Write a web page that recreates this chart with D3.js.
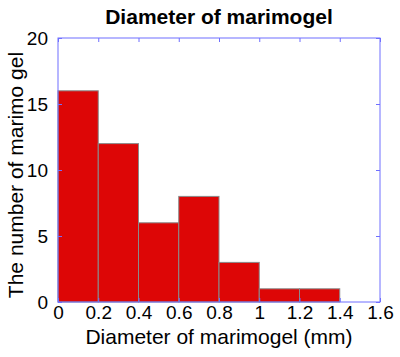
<!DOCTYPE html>
<html><head><meta charset="utf-8">
<script src="https://cdn.jsdelivr.net/npm/d3@7"></script>
<style>body{margin:0;background:#fff}svg{display:block}</style>
</head><body>
<script>
const binStarts = [0, 0.2, 0.4, 0.6, 0.8, 1.0, 1.2];
const binWidth = 0.2;
const counts = [16, 12, 6, 8, 3, 1, 1];
const xTicks = [0, 0.2, 0.4, 0.6, 0.8, 1, 1.2, 1.4, 1.6];
const yTicks = [0, 5, 10, 15, 20];
const title = "Diameter of marimogel";
const xLabel = "Diameter of marimogel (mm)";
const yLabel = "The number of marimo gel";

const W = 400, H = 357;
const m = {l: 58, r: 20, t: 38, b: 55};
const svg = d3.select("body").append("svg").attr("width", W).attr("height", H);
const x = d3.scaleLinear().domain([0, 1.6]).range([m.l, W - m.r]);
const y = d3.scaleLinear().domain([0, 20]).range([H - m.b, m.t]);
const font = "Liberation Sans, Arial, sans-serif";
const axisColor = "#6f6fff";

svg.append("g").selectAll("rect").data(binStarts).join("rect")
  .attr("x", d => x(d)).attr("width", d => x(d + binWidth) - x(d))
  .attr("y", (d, i) => y(counts[i])).attr("height", (d, i) => y(0) - y(counts[i]))
  .attr("fill", "#dd0606").attr("stroke", "#8a8a8a").attr("stroke-width", 1);

svg.append("rect").attr("x", x(0)).attr("y", y(20)).attr("width", x(1.6) - x(0)).attr("height", y(0) - y(20))
  .attr("fill", "none").attr("stroke", axisColor).attr("stroke-width", 1);

const fmt = d => String(d);
const tl = 4;
const gb = svg.append("g").attr("transform", `translate(0,${y(0)})`)
  .call(d3.axisBottom(x).tickValues(xTicks).tickFormat(fmt).tickSizeInner(-tl).tickSizeOuter(0).tickPadding(4));
const gt = svg.append("g").attr("transform", `translate(0,${y(20)})`)
  .call(d3.axisTop(x).tickValues(xTicks).tickFormat("").tickSizeInner(-tl).tickSizeOuter(0));
const gl = svg.append("g").attr("transform", `translate(${x(0)},0)`)
  .call(d3.axisLeft(y).tickValues(yTicks).tickFormat(fmt).tickSizeInner(-tl).tickSizeOuter(0).tickPadding(10));
const gr = svg.append("g").attr("transform", `translate(${x(1.6)},0)`)
  .call(d3.axisRight(y).tickValues(yTicks).tickFormat("").tickSizeInner(-tl).tickSizeOuter(0));
[gb, gt, gl, gr].forEach(g => {
  g.select(".domain").remove();
  g.selectAll(".tick line").attr("stroke", axisColor);
  g.selectAll("text").attr("font-family", font).attr("font-size", 19).attr("fill", "#000");
});

svg.append("text").attr("x", (x(0) + x(1.6)) / 2).attr("y", 24).attr("text-anchor", "middle")
  .attr("font-family", font).attr("font-weight", "bold").attr("font-size", 21).text(title);
svg.append("text").attr("x", (x(0) + x(1.6)) / 2).attr("y", 344).attr("text-anchor", "middle")
  .attr("font-family", font).attr("font-size", 21).text(xLabel);
svg.append("text").attr("transform", `translate(23,175) rotate(-90)`).attr("text-anchor", "middle")
  .attr("font-family", font).attr("font-size", 21).text(yLabel);
</script>
</body></html>
